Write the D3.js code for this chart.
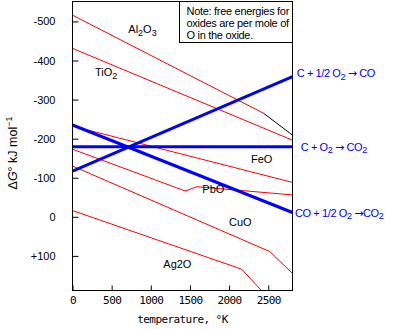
<!DOCTYPE html>
<html>
<head>
<meta charset="utf-8">
<script src="https://cdn.jsdelivr.net/npm/d3@7/dist/d3.min.js"></script>
<style>
  html, body { margin: 0; padding: 0; background: #fff; }
  svg { display: block; font-family: "Liberation Sans", Arial, sans-serif; }
</style>
</head>
<body>
<svg id="chart" width="401" height="329"></svg>
<script>
// ---- data (temperature in K, free energy in kJ per mole O) ----
const tempTicks = [0, 500, 1000, 1500, 2000, 2500];
const energyTicks = [-500, -400, -300, -200, -100, 0, 100];

const al2o3T = [0, 2440];          const al2o3G = [-516, -265];
const al2o3HighT = [2440, 2810];   const al2o3HighG = [-265, -209];
const tio2T = [0, 2810];           const tio2G = [-431, -196];
const feoT = [0, 2810];            const feoG = [-232, -88];
const pboT = [0, 1440, 1590, 2810]; const pboG = [-173, -66, -77, -56];
const cuoT = [0, 2520, 2810];      const cuoG = [-130, 89, 145];
const ag2oT = [0, 2160, 2420];     const ag2oG = [-16, 134, 190];

const coT = [0, 2810];             const coG = [-117, -359];     // C + 1/2 O2 -> CO
const co2T = [0, 2810];            const co2G = [-179, -179];    // C + O2 -> CO2
const coCo2T = [0, 2810];          const coCo2G = [-235, -11];   // CO + 1/2 O2 -> CO2

const noteLines = ["Note: free energies for", "oxides are per mole of", "O in the oxide."];

// ---- layout ----
const SANS = "'Liberation Sans', Arial, sans-serif";
const MONO = "'DejaVu Sans Mono', 'Liberation Mono', monospace";
const svg = d3.select("#chart");
const L = 72.5, R = 292.5, T = 1.5, B = 290.5;
const x = d3.scaleLinear().domain([0, 2810]).range([L, R]);
const y = d3.scaleLinear().domain([-551, 188.6]).range([T, B]);

const zip = (a, b) => a.map((v, i) => [v, b[i]]);
const line = d3.line().x(d => x(d[0])).y(d => y(d[1]));

svg.append("defs").append("clipPath").attr("id", "clip")
  .append("rect").attr("x", L).attr("y", T).attr("width", R - L).attr("height", B - T);

const plot = svg.append("g").attr("clip-path", "url(#clip)");

const redSeries = [[al2o3T, al2o3G], [tio2T, tio2G], [feoT, feoG], [pboT, pboG], [cuoT, cuoG], [ag2oT, ag2oG]];
redSeries.forEach(([t, g]) => {
  plot.append("path").datum(zip(t, g)).attr("d", line)
    .attr("fill", "none").attr("stroke", "#ff0000").attr("stroke-width", 1);
});
plot.append("path").datum(zip(al2o3HighT, al2o3HighG)).attr("d", line)
  .attr("fill", "none").attr("stroke", "#000").attr("stroke-width", 1);

[[coT, coG], [co2T, co2G], [coCo2T, coCo2G]].forEach(([t, g]) => {
  plot.append("path").datum(zip(t, g)).attr("d", line)
    .attr("fill", "none").attr("stroke", "#0000ff").attr("stroke-width", 3);
});

// ---- axes ----
const fmtY = d => d > 0 ? "+" + d : (d < 0 ? "-" + Math.abs(d) : "0");
const yAxis = svg.append("g").attr("transform", `translate(${L},0)`)
  .call(d3.axisLeft(y).tickValues(energyTicks).tickFormat(fmtY).tickSize(-6).tickPadding(17));
yAxis.select(".domain").remove();
yAxis.selectAll("line").attr("stroke", "#000");
yAxis.selectAll("text").style("font-size", "11px").style("font-family", SANS).attr("fill", "#000");

const xAxis = svg.append("g").attr("transform", `translate(0,${B})`)
  .call(d3.axisBottom(x).tickValues(tempTicks).tickFormat(d3.format("d")).tickSize(-5).tickPadding(6));
xAxis.select(".domain").remove();
xAxis.selectAll("line").attr("stroke", "#000");
xAxis.selectAll("text").style("font-size", "11px").style("letter-spacing", "-0.6px")
  .style("font-family", MONO).attr("fill", "#000");

// frame
svg.append("rect").attr("x", L).attr("y", T).attr("width", R - L).attr("height", B - T)
  .attr("fill", "none").attr("stroke", "#000").attr("stroke-width", 1);

// axis titles
svg.append("text").attr("x", (L + R) / 2).attr("y", 322.5).attr("text-anchor", "middle")
  .style("font-family", MONO).style("font-size", "11px").style("letter-spacing", "-0.6px")
  .text("temperature, °K");

const yt = svg.append("text").attr("transform", "translate(17,153) rotate(-90)")
  .attr("text-anchor", "middle").style("font-size", "12.5px").style("font-family", SANS);
yt.append("tspan").text("Δ");
yt.append("tspan").style("font-style", "italic").text("G");
yt.append("tspan").text("° kJ mol");
yt.append("tspan").attr("dy", -5).style("font-size", "9px").text("−1");

// note box
const noteX = 179.5;
svg.append("rect").attr("x", noteX).attr("y", T).attr("width", R - noteX).attr("height", 42.5 - T)
  .attr("fill", "#fff").attr("stroke", "#000").attr("stroke-width", 1);
noteLines.forEach((s, i) => {
  svg.append("text").attr("x", 186.5).attr("y", 15 + i * 12).style("font-size", "11px")
    .style("letter-spacing", "-0.3px").text(s);
});

// labels with subscripts; {arrow} uses a longer arrow glyph
function labelSub(xp, yp, parts, color, size, spacing) {
  const sz = size || 11;
  const t = svg.append("text").attr("x", xp).attr("y", yp).style("font-size", sz + "px")
    .style("letter-spacing", (spacing || 0) + "px").attr("fill", color || "#000");
  let shifted = false;
  parts.forEach(p => {
    if (typeof p === "string") {
      t.append("tspan").attr("dy", shifted ? -2.5 : 0).text(p);
      shifted = false;
    } else if (p.arrow) {
      t.append("tspan").attr("dy", shifted ? -2.5 : 0)
        .style("font-family", "'DejaVu Sans', sans-serif").text(p.arrow);
      shifted = false;
    } else {
      t.append("tspan").style("font-size", (sz * 0.82) + "px").attr("dy", shifted ? 0 : 2.5).text(p.sub);
      shifted = true;
    }
  });
  return t;
}

labelSub(128.3, 33, ["Al", {sub: "2"}, "O", {sub: "3"}]);
labelSub(95, 76, ["TiO", {sub: "2"}]);
labelSub(251, 163, ["FeO"]);
labelSub(202.3, 193.3, ["PbO"]);
labelSub(229, 226, ["CuO"]);
labelSub(163.3, 268, ["Ag2O"]);

labelSub(296.7, 77.3, ["C + 1/2 O", {sub: "2"}, " ", {arrow: "→"}, " CO"], "#0000ff", 11, -0.4);
labelSub(300.7, 150.5, ["C + O", {sub: "2"}, " ", {arrow: "→"}, " CO", {sub: "2"}], "#0000ff", 11, -0.4);
labelSub(295, 216.7, ["CO + 1/2 O", {sub: "2"}, " ", {arrow: "→"}, "CO", {sub: "2"}], "#0000ff", 11, -0.4);
</script>
</body>
</html>
